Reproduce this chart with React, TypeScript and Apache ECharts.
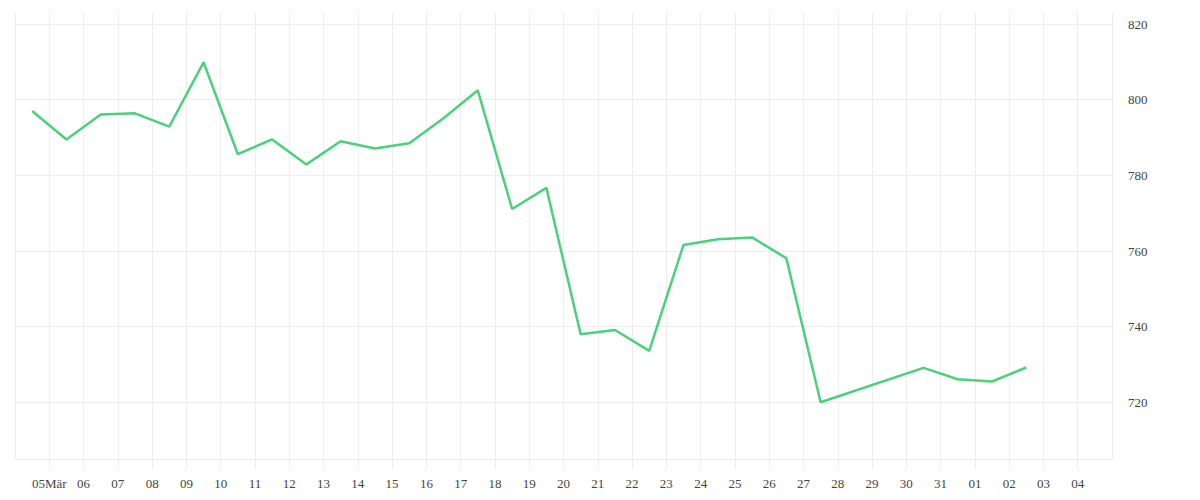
import React, { useEffect, useRef } from 'react';
import * as echarts from 'echarts';

// daily closing values (missing days are simply left out)
const dates = [
  '2024-03-04', '2024-03-05', '2024-03-06', '2024-03-07', '2024-03-08',
  '2024-03-09', '2024-03-10', '2024-03-11', '2024-03-12', '2024-03-13',
  '2024-03-14', '2024-03-15', '2024-03-16', '2024-03-17', '2024-03-18',
  '2024-03-19', '2024-03-20', '2024-03-21', '2024-03-22', '2024-03-23',
  '2024-03-24', '2024-03-25', '2024-03-26', '2024-03-27', '2024-03-30',
  '2024-03-31', '2024-04-01', '2024-04-02'
];
const values = [
  797.0, 789.5, 796.1, 796.4, 792.9,
  809.9, 785.6, 789.5, 782.9, 789.0,
  787.1, 788.5, 795.1, 802.5, 771.1,
  776.7, 738.0, 739.1, 733.6, 761.6,
  763.1, 763.6, 758.1, 720.0, 729.1,
  726.1, 725.5, 729.2
];

// axis starts at 04 Mar, one tick per day
const axisStart = '2024-03-04';
const tickLabels = [
  '05Mär', '06', '07', '08', '09', '10', '11', '12', '13', '14', '15',
  '16', '17', '18', '19', '20', '21', '22', '23', '24', '25', '26',
  '27', '28', '29', '30', '31', '01', '02', '03', '04'
];

const DAY = 86400000;

const App: React.FC = () => {
  const chartRef = useRef<HTMLDivElement>(null);

  useEffect(() => {
    if (!chartRef.current) return;
    const chart = echarts.init(chartRef.current, null, { renderer: 'svg' });

    const t0 = Date.parse(axisStart);
    // points sit in the middle of their day
    const seriesData = dates.map((d, i) => [(Date.parse(d) - t0) / DAY + 0.5, values[i]]);

    chart.setOption({
      animation: false,
      textStyle: { fontFamily: 'serif' },
      grid: { left: 15, right: 88, top: 12, bottom: 41 },
      xAxis: {
        type: 'value',
        min: 0,
        max: tickLabels.length + 1,
        interval: 1,
        axisLine: { show: false },
        axisTick: { show: true, length: 10, lineStyle: { color: '#eeeeee' } },
        splitLine: { show: true, lineStyle: { color: '#eeeeee' } },
        axisLabel: {
          showMinLabel: false,
          showMaxLabel: false,
          margin: 18,
          fontSize: 13,
          color: '#444',
          fontFamily: 'serif',
          formatter: (v: number) => tickLabels[Math.round(v) - 1] ?? ''
        }
      },
      yAxis: {
        type: 'value',
        position: 'right',
        min: 705,
        max: 823.2,
        axisLine: { show: false },
        axisTick: { show: false },
        splitLine: { show: true, showMaxLine: false, lineStyle: { color: '#eeeeee' } },
        axisLabel: {
          showMinLabel: false,
          showMaxLabel: false,
          margin: 16,
          fontSize: 13,
          color: '#444',
          fontFamily: 'serif'
        }
      },
      series: [
        {
          type: 'line',
          data: seriesData,
          showSymbol: false,
          lineStyle: { color: '#4cd07d', width: 2.5 },
          itemStyle: { color: '#4cd07d' }
        }
      ]
    });

    const handleResize = () => chart.resize();
    window.addEventListener('resize', handleResize);
    return () => {
      window.removeEventListener('resize', handleResize);
      chart.dispose();
    };
  }, []);

  return (
    <div
      ref={chartRef}
      style={{ position: 'fixed', left: 0, top: 0, width: 1200, height: 500, background: '#fff' }}
    />
  );
};

export default App;
